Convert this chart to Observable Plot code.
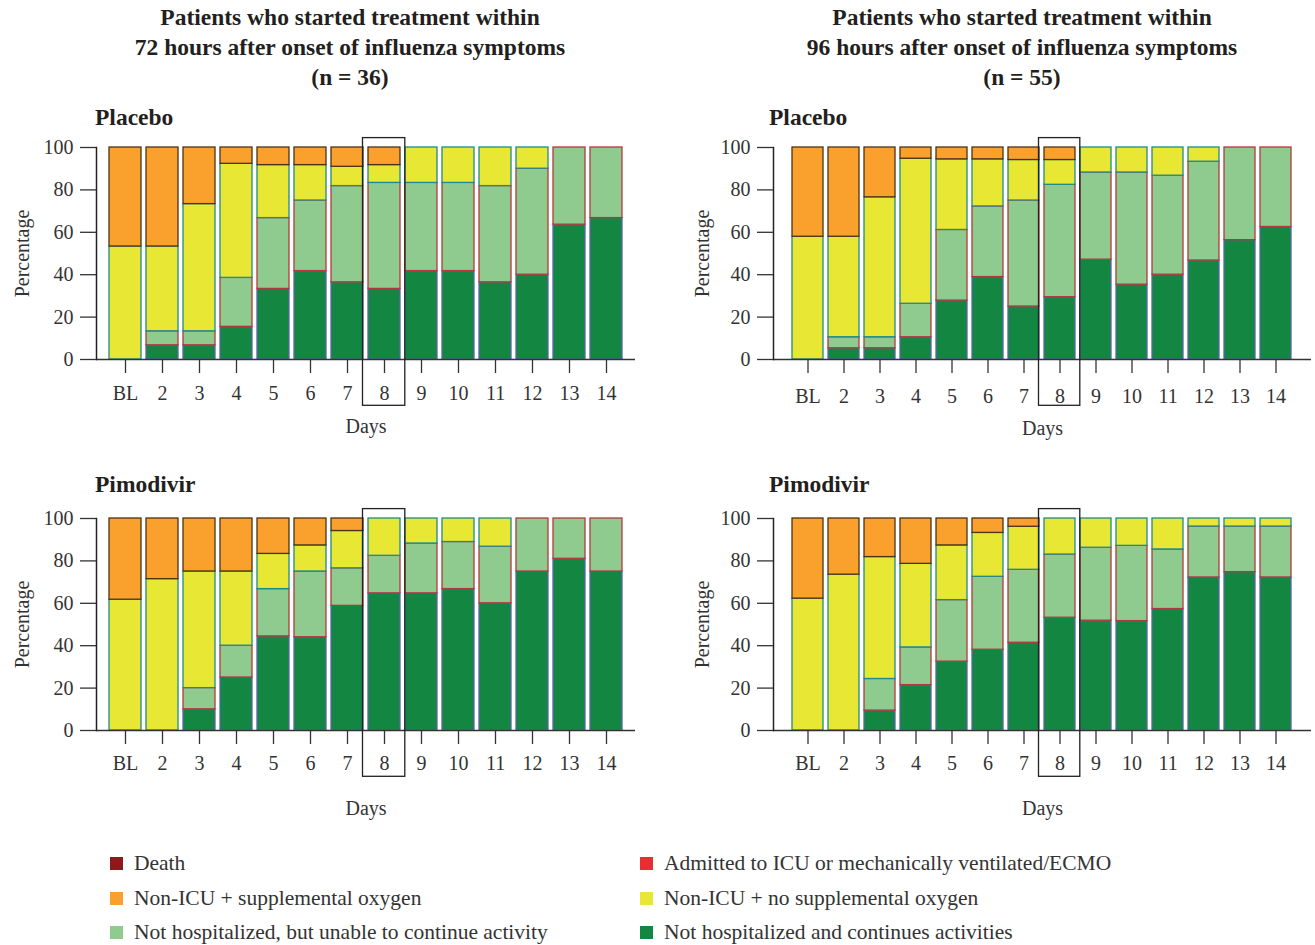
<!DOCTYPE html>
<html><head><meta charset="utf-8">
<script src="https://cdn.jsdelivr.net/npm/d3@7"></script>
<script src="https://cdn.jsdelivr.net/npm/@observablehq/plot@0.6"></script>
<style>
body{margin:0;background:#fff;font-family:"Liberation Serif",serif;}
#root{position:relative;width:1315px;height:945px;overflow:hidden;background:#fff}
.abs{position:absolute}
.title{font-weight:bold;font-size:23.5px;line-height:30px;text-align:center;color:#231f20;width:700px;white-space:nowrap}
.panel{font-weight:bold;font-size:23.5px;line-height:30px;color:#231f20}
.leg{font-size:21.5px;color:#333;display:flex;align-items:center;height:30px;white-space:nowrap}
.sw{width:13px;height:13px;margin-right:11px;flex:none}
</style></head>
<body><div id="root"></div>
<script>
// ---------- data ----------
const days = ["BL","2","3","4","5","6","7","8","9","10","11","12","13","14"];
const yTicks = [0, 20, 40, 60, 80, 100];

const legendLabels = [
  "Death", "Admitted to ICU or mechanically ventilated/ECMO",
  "Non-ICU + supplemental oxygen", "Non-ICU + no supplemental oxygen",
  "Not hospitalized, but unable to continue activity", "Not hospitalized and continues activities"
];

// segment percentages per day (bottom to top: active, unable, no O2, O2)
const placebo72_active = [0, 6.7, 6.7, 15.4, 33.3, 41.7, 36.4, 33.3, 41.7, 41.7, 36.4, 40.0, 63.6, 66.7];
const placebo72_unable = [0, 6.6, 6.6, 23.1, 33.4, 33.3, 45.4, 50.0, 41.6, 41.6, 45.4, 50.0, 36.4, 33.3];
const placebo72_noO2   = [53.3, 40.0, 60.0, 53.8, 25.0, 16.7, 9.1, 8.4, 16.7, 16.7, 18.2, 10.0, 0, 0];
const placebo72_O2     = [46.7, 46.7, 26.7, 7.7, 8.3, 8.3, 9.1, 8.3, 0, 0, 0, 0, 0, 0];

const placebo96_active = [0, 5.3, 5.3, 10.5, 27.8, 38.9, 25.0, 29.4, 47.1, 35.3, 40.0, 46.7, 56.3, 62.5];
const placebo96_unable = [0, 5.2, 5.2, 15.8, 33.3, 33.3, 50.0, 53.0, 41.1, 52.9, 46.7, 46.6, 43.7, 37.5];
const placebo96_noO2   = [57.9, 47.4, 66.0, 68.4, 33.3, 22.2, 19.1, 11.7, 11.8, 11.8, 13.3, 6.7, 0, 0];
const placebo96_O2     = [42.1, 42.1, 23.5, 5.3, 5.6, 5.6, 5.9, 5.9, 0, 0, 0, 0, 0, 0];

const pimo72_active = [0, 0, 10.0, 25.0, 44.4, 44.0, 58.8, 64.7, 64.7, 66.7, 60.0, 75.0, 81.0, 75.0];
const pimo72_unable = [0, 0, 10.0, 15.0, 22.3, 31.0, 17.7, 17.7, 23.5, 22.2, 26.7, 25.0, 19.0, 25.0];
const pimo72_noO2   = [61.7, 71.4, 55.0, 35.0, 16.6, 12.3, 17.6, 17.6, 11.8, 11.1, 13.3, 0, 0, 0];
const pimo72_O2     = [38.3, 28.6, 25.0, 25.0, 16.7, 12.7, 5.9, 0, 0, 0, 0, 0, 0, 0];

const pimo96_active = [0, 0, 9.4, 21.4, 32.5, 38.1, 41.4, 53.2, 51.8, 51.6, 57.3, 72.2, 74.7, 72.2];
const pimo96_unable = [0, 0, 14.9, 17.8, 29.0, 34.4, 34.4, 29.8, 34.4, 35.5, 28.1, 24.0, 21.5, 24.0];
const pimo96_noO2   = [62.2, 73.5, 57.5, 39.4, 25.8, 20.7, 20.3, 17.0, 13.8, 12.9, 14.6, 3.8, 3.8, 3.8];
const pimo96_O2     = [37.8, 26.5, 18.2, 21.4, 12.7, 6.8, 3.9, 0, 0, 0, 0, 0, 0, 0];

// ---------- styles ----------
const legendFill = ["#8b1a1d", "#ec2c33", "#f9a12c", "#e7e734", "#8fcb8e", "#138742"];
const segFill   = ["#138742", "#8fcb8e", "#e7e734", "#f9a12c"];
const segStroke = ["#5866a8", "#b2393b", "#1f8a8c", "#4a3418"];
const FONT = "'Liberation Serif', serif";

const root = document.getElementById("root");
function addDiv(cls, left, top, html, extra) {
  const d = document.createElement("div");
  d.className = "abs " + cls;
  d.style.left = left + "px"; d.style.top = top + "px";
  if (extra) Object.assign(d.style, extra);
  d.innerHTML = html;
  root.appendChild(d);
  return d;
}

function panel(series, opt) {
  const marks = [];
  const base = days.map(() => 0);
  series.forEach((vals, si) => {
    const rows = [];
    vals.forEach((v, i) => {
      if (v > 0) rows.push({day: days[i], y1: base[i], y2: base[i] + v});
      base[i] += v;
    });
    marks.push(Plot.barY(rows, {x: "day", y1: "y1", y2: "y2", fill: segFill[si], stroke: segStroke[si], strokeWidth: 1.3}));
  });
  marks.push(Plot.ruleY([0], {stroke: "#333", strokeWidth: 1.5}));
  marks.push(Plot.frame({anchor: "left", stroke: "#222", strokeWidth: 1.5}));
  marks.push(Plot.axisY({ticks: yTicks, tickSize: 16, tickPadding: 7, strokeWidth: 1.3, fontSize: 20, fontFamily: FONT}));
  marks.push(Plot.axisX({tickSize: 14, tickPadding: opt.tickPadding, strokeWidth: 1.3, fontSize: 20, fontFamily: FONT}));
  marks.push(Plot.barY(["8"], {x: d => d, y1: 0, y2: 100, fill: "none", stroke: "#222", strokeWidth: 1.3,
    insetTop: -9.4, insetBottom: -46.3, insetLeft: -5.5, insetRight: -4.8}));
  marks.push(Plot.text(["Percentage"], {frameAnchor: "left", dx: opt.yLabelDx, rotate: -90, textAnchor: "middle",
    lineAnchor: "middle", fontSize: 20, fill: "#333", fontFamily: FONT}));
  marks.push(Plot.text(["Days"], {frameAnchor: "bottom", dy: opt.daysDy, textAnchor: "middle", lineAnchor: "middle",
    fontSize: 20, fill: "#333", fontFamily: FONT}));
  const svg = Plot.plot({
    width: opt.width, height: opt.height,
    marginLeft: 96, marginRight: opt.marginRight, marginTop: 21, marginBottom: opt.height - 21 - 212,
    x: {domain: days, paddingInner: 0.135, paddingOuter: 0.35, label: null},
    y: {domain: [0, 100], label: null},
    style: `font-family: ${FONT}; font-size: 20px; color: #333; background: transparent; overflow: visible;`,
    marks
  });
  svg.style.position = "absolute";
  svg.style.left = opt.left + "px";
  svg.style.top = opt.top + "px";
  root.appendChild(svg);
}

// titles
addDiv("title", 0, 2, "Patients who started treatment within<br>72 hours after onset of influenza symptoms<br>(n = 36)");
addDiv("title", 672, 2, "Patients who started treatment within<br>96 hours after onset of influenza symptoms<br>(n = 55)");
addDiv("panel", 95, 102, "Placebo");
addDiv("panel", 769, 102, "Placebo");
addDiv("panel", 95, 469, "Pimodivir");
addDiv("panel", 769, 469, "Pimodivir");

panel([placebo72_active, placebo72_unable, placebo72_noO2, placebo72_O2],
  {left: 0, top: 126, width: 660, height: 323, marginRight: 25, tickPadding: 12, yLabelDx: -74, daysDy: 67});
panel([placebo96_active, placebo96_unable, placebo96_noO2, placebo96_O2],
  {left: 677, top: 126, width: 638, height: 323, marginRight: 4, tickPadding: 15, yLabelDx: -71, daysDy: 69});
panel([pimo72_active, pimo72_unable, pimo72_noO2, pimo72_O2],
  {left: 0, top: 497, width: 660, height: 333, marginRight: 25, tickPadding: 11, yLabelDx: -74, daysDy: 78});
panel([pimo96_active, pimo96_unable, pimo96_noO2, pimo96_O2],
  {left: 677, top: 497, width: 638, height: 333, marginRight: 4, tickPadding: 11, yLabelDx: -71, daysDy: 78});

// legend
const legRows = [848, 883, 917];
legendLabels.forEach((lab, i) => {
  const col = i % 2, row = Math.floor(i / 2);
  addDiv("leg", col === 0 ? 110 : 640, legRows[row],
    `<span class="sw" style="background:${legendFill[i]}"></span><span>${lab}</span>`);
});
</script></body></html>
